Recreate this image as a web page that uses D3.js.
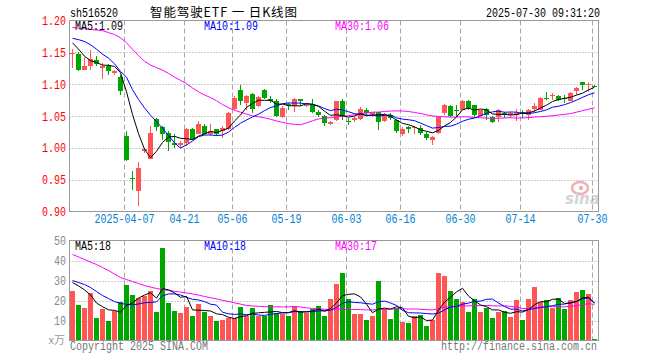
<!DOCTYPE html>
<html><head><meta charset="utf-8">
<script src="https://cdn.jsdelivr.net/npm/d3@7/dist/d3.min.js"></script>
<style>body{margin:0;background:#fff;}svg{display:block;}</style>
</head><body>
<svg id="chart" width="660" height="360"></svg>
<script>
// ---------- DATA ----------
const dates = [
"2025-03-24","2025-03-25","2025-03-26","2025-03-27","2025-03-28","2025-03-31",
"2025-04-01","2025-04-02","2025-04-03","2025-04-07","2025-04-08","2025-04-09","2025-04-10","2025-04-11",
"2025-04-14","2025-04-15","2025-04-16","2025-04-17","2025-04-18","2025-04-21","2025-04-22","2025-04-23",
"2025-04-24","2025-04-25","2025-04-28","2025-04-29","2025-04-30",
"2025-05-06","2025-05-07","2025-05-08","2025-05-09","2025-05-12","2025-05-13","2025-05-14","2025-05-15",
"2025-05-16","2025-05-19","2025-05-20","2025-05-21","2025-05-22","2025-05-23","2025-05-26","2025-05-27",
"2025-05-28","2025-05-29","2025-05-30",
"2025-06-03","2025-06-04","2025-06-05","2025-06-06","2025-06-09","2025-06-10","2025-06-11","2025-06-12",
"2025-06-13","2025-06-16","2025-06-17","2025-06-18","2025-06-19","2025-06-20","2025-06-23","2025-06-24",
"2025-06-25","2025-06-26","2025-06-27","2025-06-30",
"2025-07-01","2025-07-02","2025-07-03","2025-07-04","2025-07-07","2025-07-08","2025-07-09","2025-07-10",
"2025-07-11","2025-07-14","2025-07-15","2025-07-16","2025-07-17","2025-07-18","2025-07-21","2025-07-22",
"2025-07-23","2025-07-24","2025-07-25","2025-07-28","2025-07-29","2025-07-30"];

const opens = [1.147,1.148,1.123,1.128,1.138,1.126,1.128,1.117,1.111,1.018,
0.953,0.932,0.995,0.983,1.045,1.033,1.024,1.007,1.004,1.007,
1.029,1.022,1.035,1.022,1.029,1.026,1.029,1.061,1.091,1.071,
1.084,1.066,1.091,1.077,1.074,1.049,1.069,1.065,1.077,1.066,
1.068,1.057,1.050,1.038,1.043,1.074,1.042,1.044,1.046,1.060,
1.053,1.056,1.042,1.052,1.044,1.021,1.032,1.031,1.031,1.021,
1.013,1.023,1.054,1.066,1.060,1.060,1.074,1.067,1.050,1.061,
1.048,1.048,1.055,1.051,1.052,1.056,1.052,1.061,1.060,1.079,
1.081,1.082,1.078,1.074,1.090,1.103,1.099,1.097];
const highs = [1.156,1.151,1.143,1.153,1.144,1.133,1.131,1.122,1.115,1.026,
0.963,0.977,1.000,1.035,1.047,1.034,1.026,1.021,1.010,1.031,
1.031,1.042,1.037,1.038,1.030,1.034,1.057,1.081,1.099,1.083,
1.086,1.081,1.093,1.082,1.076,1.065,1.070,1.078,1.077,1.070,
1.077,1.060,1.052,1.042,1.074,1.076,1.047,1.049,1.064,1.062,
1.057,1.057,1.054,1.055,1.046,1.032,1.034,1.035,1.036,1.025,
1.018,1.050,1.069,1.068,1.068,1.075,1.075,1.068,1.060,1.062,
1.050,1.061,1.057,1.056,1.061,1.059,1.061,1.071,1.080,1.088,
1.086,1.083,1.083,1.087,1.096,1.104,1.103,1.098];
const lows = [1.125,1.120,1.122,1.123,1.128,1.108,1.115,1.115,1.083,0.979,
0.934,0.909,0.992,0.982,1.026,1.013,0.995,1.000,1.000,1.003,
1.013,1.021,1.020,1.019,1.018,1.016,1.028,1.060,1.068,1.060,
1.055,1.064,1.076,1.071,1.049,1.047,1.060,1.057,1.066,1.064,
1.054,1.049,1.034,1.036,1.042,1.043,1.036,1.040,1.044,1.052,
1.049,1.028,1.040,1.044,1.023,1.018,1.023,1.021,1.020,1.013,
1.005,1.022,1.052,1.048,1.049,1.059,1.060,1.047,1.049,1.044,
1.039,1.041,1.047,1.047,1.042,1.047,1.044,1.057,1.059,1.075,
1.075,1.073,1.071,1.073,1.083,1.091,1.088,1.095];
const closes = [1.149,1.122,1.129,1.139,1.131,1.129,1.120,1.120,1.090,0.981,
0.952,0.968,0.998,1.023,1.032,1.022,1.009,1.004,1.008,1.029,
1.014,1.037,1.022,1.026,1.021,1.031,1.054,1.079,1.073,1.081,
1.061,1.080,1.078,1.074,1.050,1.062,1.067,1.077,1.073,1.068,
1.056,1.052,1.039,1.040,1.073,1.049,1.040,1.047,1.061,1.055,
1.056,1.040,1.050,1.047,1.026,1.029,1.030,1.033,1.023,1.015,
1.017,1.049,1.068,1.050,1.058,1.074,1.062,1.052,1.059,1.052,
1.041,1.059,1.052,1.054,1.055,1.054,1.060,1.066,1.078,1.077,
1.083,1.075,1.076,1.086,1.094,1.098,1.101,1.096];
// volume (万手)
const volumes = [24.8,17.7,16.2,23.7,11.2,15.8,9.8,14.8,19.2,27.7,
22.7,21.5,22.5,25.0,14.2,46.2,19.0,14.8,13.7,16.7,
12.3,18.2,14.2,12.3,9.8,10.3,11.5,11.2,16.7,12.5,
16.2,12.5,12.5,17.7,13.7,13.3,12.5,17.2,14.7,13.7,
15.7,17.2,12.2,20.7,28.2,33.7,20.7,13.2,13.2,10.2,
12.2,29.7,15.7,10.7,16.2,9.2,8.7,12.2,12.7,7.2,
10.2,33.7,32.2,24.7,20.7,19.2,14.2,20.7,14.2,16.2,
11.2,14.2,14.7,11.7,20.2,10.2,20.7,26.7,19.2,20.2,
16.2,21.2,15.7,20.2,24.2,25.2,23.2,0.7];

// moving-average values before enough in-window history exists
const priceMa5Head = [1.165,1.155,1.144,1.137];
const priceMa10Head = [1.172,1.170,1.167,1.162,1.155,1.147,1.141,1.132,1.120];
const priceMa30Head = [1.189,1.188,1.187,1.186,1.185,1.184,1.181,1.178,1.173,1.165,
1.155,1.145,1.136,1.130,1.126,1.122,1.117,1.111,1.106,1.101,
1.094,1.088,1.083,1.079,1.074,1.068,1.063,1.059,1.056];
const volMa5Head = [29,27.3,25.3,22.8];
const volMa10Head = [30,29,28,26.5,24.5,22.5,21,19.5,18.5];
const volMa30Head = [43,41.8,40.5,39.2,38,36.5,35,33.2,31.5,30.5,
29.5,28.5,27.5,26.7,26,25.5,25,24.6,24.2,23.8,
23.3,22.7,22,21.4,20.8,20.1,19.5,18.8,18.2];

const priceTicks = [0.90,0.95,1.00,1.05,1.10,1.15,1.20];
const volTicks = [10,20,30,40,50];
const dateTicks = ["2025-04-07","2025-04-21","2025-05-06","2025-05-19","2025-06-03","2025-06-16","2025-06-30","2025-07-14","2025-07-30"];
const dateTickLabels = ["2025-04-07","04-21","05-06","05-19","06-03","06-16","06-30","07-14","07-30"];
const priceMaLabels = ["MA5:1.09","MA10:1.09","MA30:1.06"];
const volMaLabels = ["MA5:18","MA10:18","MA30:17"];
const maColors = ["#000000","#0000ff","#ff00ff"];

// ---------- DRAW ----------
const svg = d3.select("#chart");
const RED = "#ff5555", GREEN = "#00a600";
const MONO = "'Liberation Mono','DejaVu Sans Mono',monospace";
const left = 69.5, right = 598.5;
const pTop = 20.5, pBot = 211.5, vTop = 240.5, vBot = 340.5;

const x = d3.scaleBand().domain(dates).range([70, 597]).paddingInner(1/6).paddingOuter(0);
const bw = x.bandwidth();
const cx = d => x(d) + bw / 2;
const y = d3.scaleLinear().domain([0.90, 1.20]).range([pBot, pTop]);
const yv = d3.scaleLinear().domain([0, 50]).range([vBot, vTop]);

function movingAvg(vals, n, head) {
  return vals.map((v, i) => i < n - 1 ? head[i] : d3.mean(vals.slice(i - n + 1, i + 1)));
}
function mono(sel, str) {
  sel.text(str).attr("font-family", MONO).attr("font-size", 12)
     .attr("textLength", str.length * 6).attr("lengthAdjust", "spacingAndGlyphs");
  return sel;
}

// watermark
const wm = svg.append("g");
wm.append("ellipse").attr("cx", 580).attr("cy", 188).attr("rx", 8).attr("ry", 6)
  .attr("fill", "none").attr("stroke", "#f0b0b0").attr("stroke-width", 2.5);
wm.append("circle").attr("cx", 581).attr("cy", 188).attr("r", 2.2).attr("fill", "#f0b0b0");
wm.append("text").attr("x", 565).attr("y", 204).text("sina")
  .attr("font-family", "'DejaVu Sans',sans-serif").attr("font-size", 15).attr("font-weight", "bold")
  .attr("font-style", "italic").attr("fill", "#d4d4d4");

// gridlines
function hGrid(vals, scale) {
  svg.append("g").selectAll("line").data(vals).join("line")
    .attr("x1", left).attr("x2", right)
    .attr("y1", d => Math.round(scale(d)) + 0.5).attr("y2", d => Math.round(scale(d)) + 0.5)
    .attr("stroke", "#a0a0a0").attr("stroke-dasharray", "1,2");
}
hGrid([0.95,1.00,1.05,1.10,1.15], y);
hGrid([10,20,30,40], yv);
function vGrid(t, b) {
  svg.append("g").selectAll("line").data(dateTicks).join("line")
    .attr("x1", d => x(d) + 0.5).attr("x2", d => x(d) + 0.5)
    .attr("y1", t).attr("y2", b)
    .attr("stroke", "#a8a8a8").attr("stroke-dasharray", "5,3");
}
vGrid(pTop, pBot);
vGrid(vTop, vBot);

// candles
const candles = svg.append("g").selectAll("g").data(dates).join("g");
candles.append("rect")
  .attr("x", (d) => x(d) + 2).attr("width", 1)
  .attr("y", (d, i) => Math.round(y(highs[i])))
  .attr("height", (d, i) => Math.max(1, Math.round(y(lows[i])) - Math.round(y(highs[i]))))
  .attr("fill", (d, i) => closes[i] >= opens[i] ? RED : GREEN);
candles.append("rect")
  .attr("x", d => x(d)).attr("width", bw)
  .attr("y", (d, i) => Math.round(y(Math.max(opens[i], closes[i]))))
  .attr("height", (d, i) => Math.max(1, Math.round(y(Math.min(opens[i], closes[i]))) - Math.round(y(Math.max(opens[i], closes[i])))))
  .attr("fill", (d, i) => closes[i] >= opens[i] ? RED : GREEN);

// volume bars
svg.append("g").selectAll("rect").data(dates).join("rect")
  .attr("x", d => x(d)).attr("width", bw)
  .attr("y", (d, i) => Math.round(yv(volumes[i])))
  .attr("height", (d, i) => vBot - Math.round(yv(volumes[i])))
  .attr("fill", (d, i) => closes[i] >= opens[i] ? RED : GREEN);

// moving averages
const pMas = [movingAvg(closes, 5, priceMa5Head), movingAvg(closes, 10, priceMa10Head), movingAvg(closes, 30, priceMa30Head)];
const vMas = [movingAvg(volumes, 5, volMa5Head), movingAvg(volumes, 10, volMa10Head), movingAvg(volumes, 30, volMa30Head)];
const lineP = d3.line().x((v, i) => cx(dates[i])).y(v => y(v));
const lineV = d3.line().x((v, i) => cx(dates[i])).y(v => yv(v));
[2, 1, 0].forEach(k => {
  svg.append("path").attr("d", lineP(pMas[k])).attr("fill", "none").attr("stroke", maColors[k]).attr("stroke-width", 1);
  svg.append("path").attr("d", lineV(vMas[k])).attr("fill", "none").attr("stroke", maColors[k]).attr("stroke-width", 1);
});

// borders
svg.append("rect").attr("x", left).attr("y", pTop).attr("width", right - left).attr("height", pBot - pTop)
  .attr("fill", "none").attr("stroke", "#999");
svg.append("rect").attr("x", left).attr("y", vTop).attr("width", right - left).attr("height", vBot - vTop)
  .attr("fill", "none").attr("stroke", "#999");

// MA labels
const labX = [75, 204, 335];
priceMaLabels.forEach((s, k) => mono(svg.append("text"), s).attr("x", labX[k]).attr("y", 30).attr("fill", maColors[k]));
volMaLabels.forEach((s, k) => mono(svg.append("text"), s).attr("x", labX[k]).attr("y", 250).attr("fill", maColors[k]));

// price axis labels
priceTicks.forEach(p => mono(svg.append("text"), p.toFixed(2))
  .attr("x", 66).attr("y", y(p) + 4.5).attr("text-anchor", "end").attr("fill", "#ff0000"));
// volume axis labels
volTicks.forEach(v => mono(svg.append("text"), String(v))
  .attr("x", 66).attr("y", yv(v) + 4.5).attr("text-anchor", "end").attr("fill", "#888"));
svg.append("text").attr("x", 65).attr("y", 344).attr("text-anchor", "end").text("x万")
  .attr("font-family", "'Noto Sans CJK SC',sans-serif").attr("font-size", 11).attr("fill", "#999");

// date labels
dateTicks.forEach((d, k) => mono(svg.append("text"), dateTickLabels[k])
  .attr("x", x(d) + 0.5).attr("y", 223).attr("text-anchor", "middle").attr("fill", "#0080d0"));

// header
mono(svg.append("text"), "sh516520").attr("x", 70).attr("y", 17).attr("fill", "#000");
svg.append("text").attr("x", 150).attr("y", 16.5).text("智能驾驶ETF 一 日K线图")
  .attr("xml:space", "preserve").style("white-space", "pre")
  .attr("textLength", 147).attr("lengthAdjust", "spacing")
  .attr("font-family", "'Noto Sans CJK SC',sans-serif").attr("font-size", 12.5).attr("fill", "#000");
mono(svg.append("text"), "2025-07-30 09:31:20").attr("x", 600).attr("y", 17).attr("text-anchor", "end").attr("fill", "#000");

// footer
mono(svg.append("text"), "Copyright 2025 SINA.COM").attr("x", 70).attr("y", 350).attr("fill", "#777");
mono(svg.append("text"), "http://finance.sina.com.cn").attr("x", 597).attr("y", 350).attr("text-anchor", "end").attr("fill", "#777");
</script>
</body></html>
